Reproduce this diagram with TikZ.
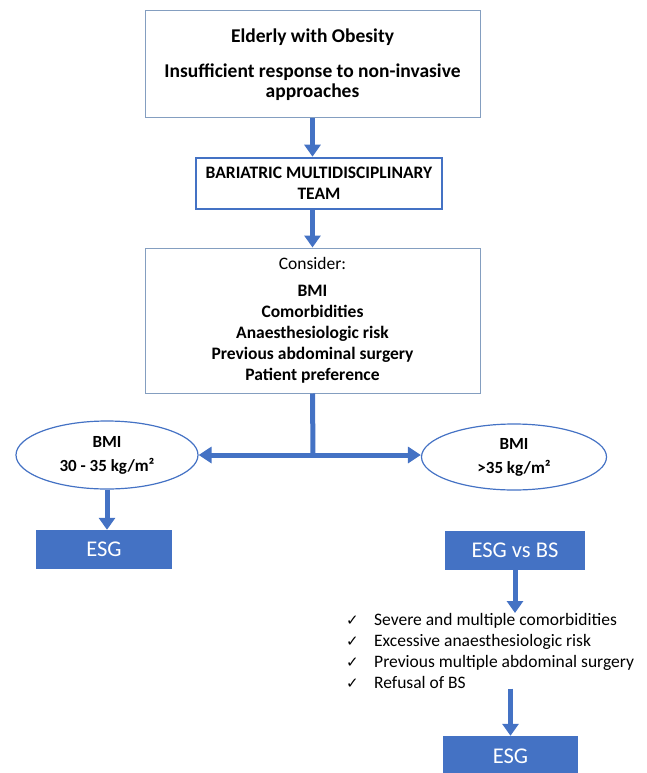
\documentclass[tikz,border=0pt]{standalone}
\usepackage{fontspec}
\setmainfont{Carlito}
\newfontfamily\dejavu{DejaVu Sans}
\usetikzlibrary{arrows.meta,shapes.geometric}
\definecolor{obl}{RGB}{68,114,196}
\definecolor{gbl}{RGB}{132,158,192}
\tikzset{
  base/.style={align=center,inner sep=0pt,font=\fontsize{17.5}{21}\selectfont},
  plainbox/.style={base,draw=gbl,line width=1pt},
  teambox/.style={base,draw=obl,line width=2.6pt},
  oval/.style={base,ellipse,draw=obl,line width=1.2pt,font=\fontsize{17}{24}\selectfont},
  filled/.style={inner sep=0pt,fill=obl,text=white,font=\fontsize{22.5}{26}\selectfont},
  bigarrow/.style={draw=obl,line width=5pt,-{Triangle[width=16pt,length=12pt]}},
  dblarrow/.style={draw=obl,line width=5pt,{Triangle[width=16pt,length=13pt]}-{Triangle[width=16pt,length=13pt]}},
  plainline/.style={draw=obl,line width=5pt},
  chk/.style={}
}
\newcommand{\ck}{\makebox[28pt][l]{\dejavu\fontsize{15}{21}\selectfont ✓}}
\begin{document}
\begin{tikzpicture}[x=1pt,y=-1pt]
\useasboundingbox (0,0) rectangle (646,773);
\clip (0,0) rectangle (646,773);

\node[plainbox,minimum width=335pt,minimum height=107pt,font=\fontsize{19.5}{20}\selectfont] (top) at (312.5,64.5)
  {\textbf{Elderly with Obesity}\\[15pt]\textbf{Insufficient response to non-invasive}\\\textbf{approaches}};

\node[teambox,minimum width=246pt,minimum height=51pt] (team) at (319,183.5)
  {\textbf{BARIATRIC MULTIDISCIPLINARY}\\\textbf{TEAM}};

\node[plainbox,minimum width=335pt,minimum height=145pt] (cons) at (312.5,320.5)
  {Consider:\\[6pt]\textbf{BMI}\\\textbf{Comorbidities}\\\textbf{Anaesthesiologic risk}\\\textbf{Previous abdominal surgery}\\\textbf{Patient preference}};

\coordinate (junc) at (313,455);

\node[oval,minimum width=182pt,minimum height=68pt] (lo) at (107,455)
  {\textbf{BMI}\\\textbf{30 - 35 kg/m²}};
\node[oval,minimum width=185pt,minimum height=66pt] (ro) at (514,457)
  {\textbf{BMI}\\\textbf{>35 kg/m²}};

\node[filled,minimum width=136pt,minimum height=39pt] (esgl) at (104,549.5) {ESG};
\node[filled,minimum width=140pt,minimum height=39pt] (esgbs) at (515,550) {ESG vs BS};

\node[base,align=left,anchor=north west] (list) at (346,613)
  {\ck Severe and multiple comorbidities\\
   \ck Excessive anaesthesiologic risk\\
   \ck Previous multiple abdominal surgery\\
   \ck Refusal of BS};

\node[filled,minimum width=135pt,minimum height=40pt] (esgb) at (510.5,756) {ESG};

\draw[bigarrow] (top.south) -- (top.south |- team.north);
\draw[bigarrow] (top.south |- team.south) -- (top.south |- cons.north);
\draw[plainline] (top.south |- cons.south) -- (junc);
\draw[dblarrow] (lo.east |- junc) -- (ro.west |- junc);
\draw[bigarrow] (lo.south) -- (lo.south |- esgl.north);
\draw[bigarrow] (esgbs.south) -- (esgbs.south |- list.north);
\draw[bigarrow] (esgb.north |- list.south) -- (esgb.north);
\end{tikzpicture}
\end{document}
